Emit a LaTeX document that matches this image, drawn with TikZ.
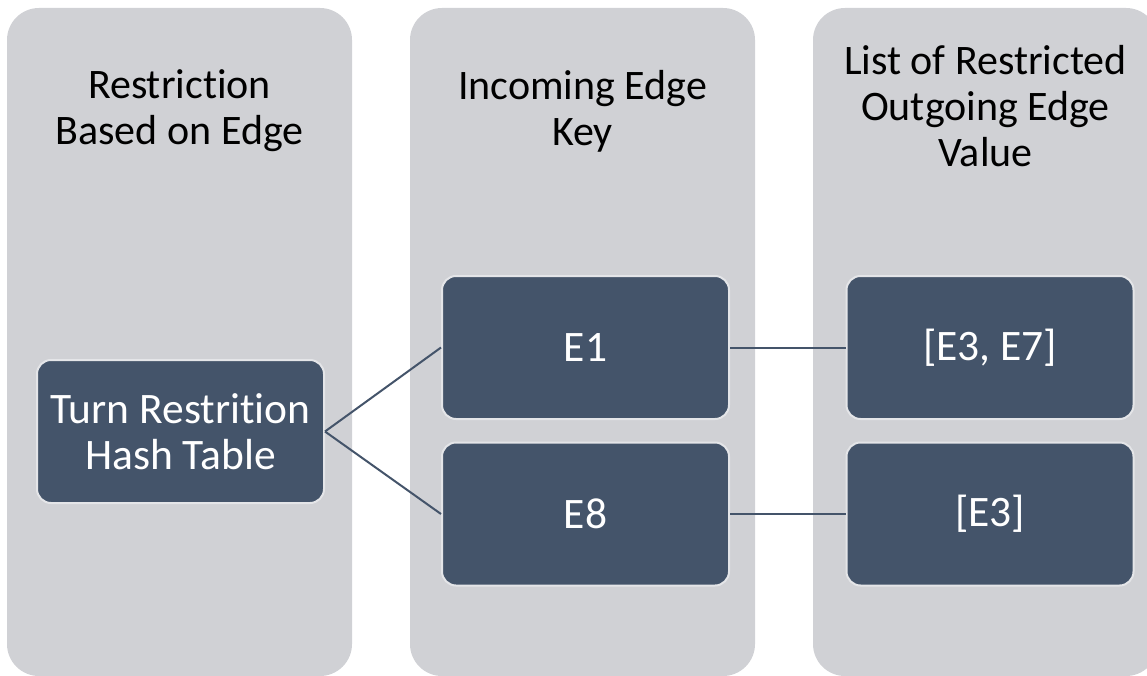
\documentclass[tikz,border=0pt]{standalone}
\usepackage{fontspec}
\setmainfont{Carlito}[Ligatures=NoCommon]
\definecolor{lane}{HTML}{D0D1D5}
\definecolor{slate}{HTML}{44546A}
\definecolor{rim}{HTML}{E4E5E8}
\tikzset{
  lanebox/.style={fill=lane, rounded corners=32pt},
  header/.style={align=center, text=black, font=\fontsize{42}{46}\selectfont},
  itembox/.style={fill=slate, draw=rim, line width=2pt, rounded corners=14pt,
    minimum width=287pt, minimum height=143pt, text=white, align=center,
    font=\fontsize{43.5}{46}\selectfont, inner sep=0pt},
  link/.style={draw=slate, line width=2pt}
}
\begin{document}
\begin{tikzpicture}[x=1pt,y=-1pt]
\useasboundingbox (0,0) rectangle (1147,676);
\clip (0,0) rectangle (1147,676);
% three lanes
\fill[lanebox] (7,8) rectangle (352,676);
\fill[lanebox] (410,8) rectangle (755,676);
\fill[lanebox] (813,8) rectangle (1158,676);
% lane headings
\node[header] (h1) at (179.5,111) {Restriction\\Based on Edge};
\node[header] (h2) at (582.5,111) {Incoming Edge\\Key};
\node[header] (h3) at (985.5,106) {List of Restricted\\Outgoing Edge\\Value};
% items
\node[itembox] (root) at (180.5,431.5) {Turn Restrition\\Hash Table};
\node[itembox] (e1) at (585.5,347.5) {E1};
\node[itembox] (e8) at (585.5,514) {E8};
\node[itembox] (v1) at (990,347.5) {[E3, E7]};
\node[itembox] (v8) at (990,514) {[E3]};
% connectors
\draw[link] (root.east) -- (e1.west);
\draw[link] (root.east) -- (e8.west);
\draw[link] (e1.east) -- (v1.west);
\draw[link] (e8.east) -- (v8.west);
\end{tikzpicture}
\end{document}
